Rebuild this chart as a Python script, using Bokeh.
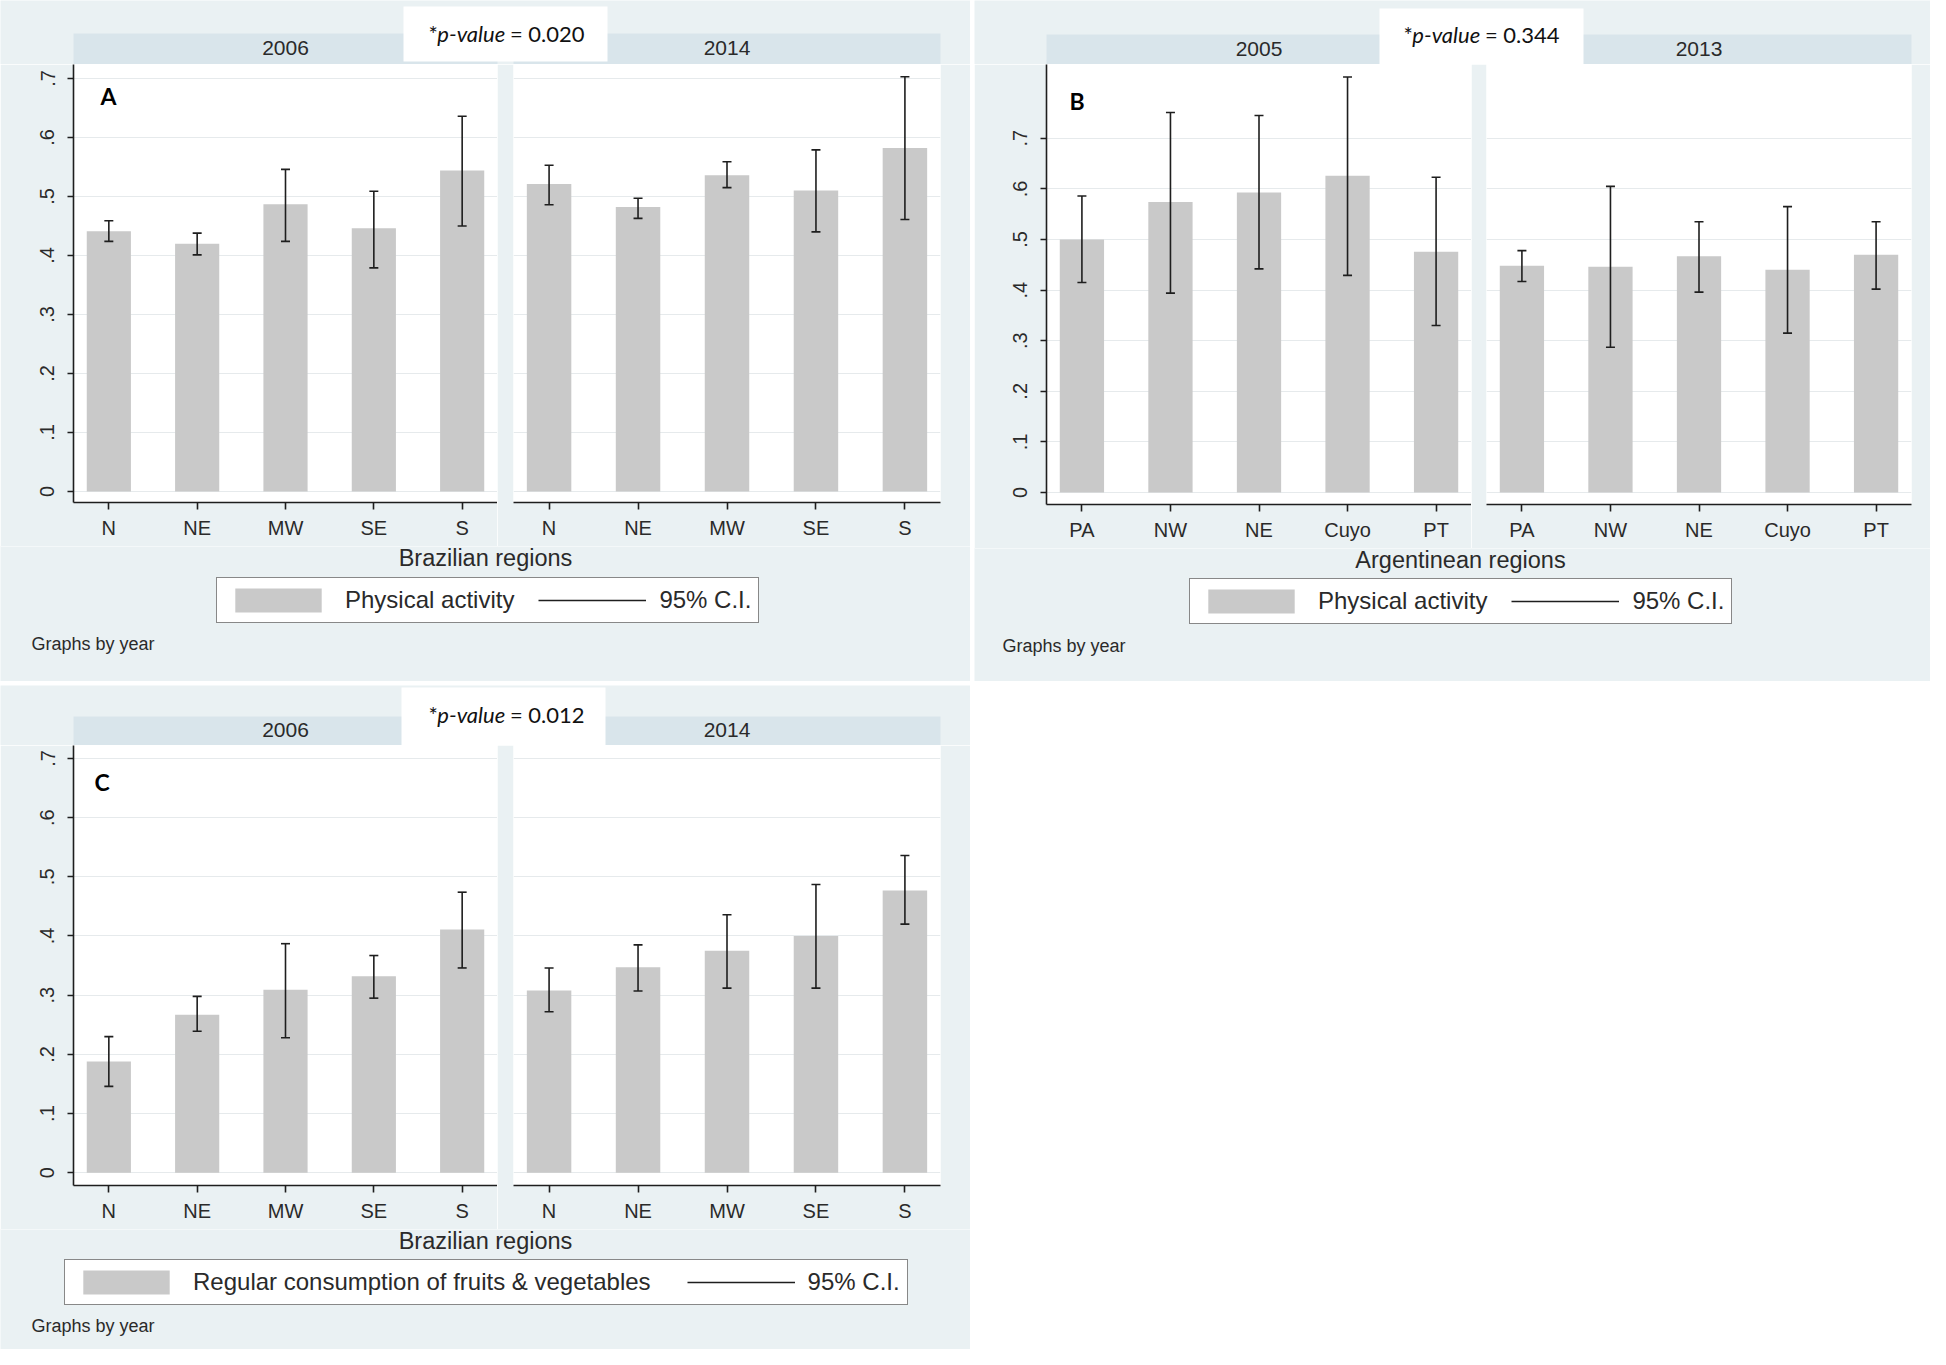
from bokeh.plotting import figure
from bokeh.models import (Range1d, FixedTicker, Whisker, TeeHead, ColumnDataSource,
                          Legend, LegendItem, Label, Spacer)
from bokeh.layouts import column, row
from bokeh.core.properties import value
from bokeh.embed import file_html
from bokeh.resources import INLINE

# ---------------- data ----------------
BR_REGIONS = ["N", "NE", "MW", "SE", "S"]
AR_REGIONS = ["PA", "NW", "NE", "Cuyo", "PT"]

# Panel A - physical activity, Brazil
A_2006_mean = [0.441, 0.420, 0.487, 0.446, 0.544]
A_2006_lo = [0.424, 0.401, 0.424, 0.379, 0.450]
A_2006_hi = [0.459, 0.438, 0.546, 0.509, 0.636]
A_2014_mean = [0.521, 0.482, 0.536, 0.510, 0.582]
A_2014_lo = [0.486, 0.463, 0.515, 0.440, 0.461]
A_2014_hi = [0.553, 0.497, 0.559, 0.579, 0.703]

# Panel B - physical activity, Argentina
B_2005_mean = [0.500, 0.574, 0.593, 0.626, 0.476]
B_2005_lo = [0.415, 0.394, 0.442, 0.429, 0.330]
B_2005_hi = [0.586, 0.751, 0.745, 0.821, 0.623]
B_2013_mean = [0.448, 0.446, 0.467, 0.440, 0.470]
B_2013_lo = [0.417, 0.287, 0.396, 0.315, 0.402]
B_2013_hi = [0.478, 0.605, 0.535, 0.565, 0.535]

# Panel C - regular consumption of fruits & vegetables, Brazil
C_2006_mean = [0.188, 0.267, 0.309, 0.332, 0.411]
C_2006_lo = [0.146, 0.239, 0.228, 0.295, 0.346]
C_2006_hi = [0.230, 0.298, 0.387, 0.367, 0.474]
C_2014_mean = [0.308, 0.347, 0.375, 0.400, 0.477]
C_2014_lo = [0.272, 0.307, 0.312, 0.312, 0.420]
C_2014_hi = [0.346, 0.385, 0.436, 0.487, 0.536]

Y_TICKS = [0, 0.1, 0.2, 0.3, 0.4, 0.5, 0.6, 0.7]
Y_LABELS = ["0", ".1", ".2", ".3", ".4", ".5", ".6", ".7"]

# ---------------- style ----------------
BG = "#eaf1f3"
STRIP = "#d9e5eb"
BAR = "#c9c9c9"
GRID = "#e6eaec"
INK = "#1e1e1e"
TXT = "#2a2a2a"
SANS = "Liberation Sans"
CAL = "Lato"


def bare_fig(W, H):
    p = figure(width=W, height=H, x_range=Range1d(0, W), y_range=Range1d(H, 0),
               output_backend="svg", toolbar_location=None, title=None,
               x_axis_location=None, y_axis_location=None, min_border=0)
    p.background_fill_color = BG
    p.border_fill_color = BG
    p.outline_line_color = None
    p.grid.visible = False
    return p


def make_header(cfg, years, pval):
    W, H = cfg["W"], cfg["HH"]
    p = bare_fig(W, H)
    bl, lw, gap, rw = cfg["bl"], cfg["lw"], cfg["gap"], cfg["rw"]
    lefts = [bl, bl + lw + gap]
    rights = [bl + lw, bl + lw + gap + rw]
    t, b = cfg["strip_y"]
    p.quad(left=lefts, right=rights, top=[t, t], bottom=[b, b],
           fill_color=STRIP, line_color=None)
    p.text(x=[(l + r) / 2 for l, r in zip(lefts, rights)], y=[cfg["strip_ty"]] * 2,
           text=years, text_align="center", text_baseline="middle",
           text_font=value(SANS), text_font_size="21px", text_color=TXT)
    x0, x1, y0, y1 = cfg["pbox"]
    p.quad(left=[x0], right=[x1], top=[y0], bottom=[y1], fill_color="white", line_color=None)
    fs = 22
    cx, cy = cfg["ptext"]
    total = 7.0 * fs
    sx = cx - total / 2
    common = dict(text_baseline="middle", text_font=value(CAL),
                  text_font_size=f"{fs}px", text_color="#111111", text_align="left")
    p.text(x=[sx], y=[cy], text=["*"], **common)
    p.text(x=[sx + 0.40 * fs], y=[cy], text=["p-value"], text_font_style="italic", **common)
    p.text(x=[sx + (0.40 + 3.18 + 0.12) * fs], y=[cy], text=["= " + pval], **common)
    return p


def make_sub(cfg, regions, mean, lo, hi, left):
    xs = list(range(1, len(regions) + 1))
    bl = cfg["bl"] if left else cfg["gap"]
    br = 0 if left else cfg["br"]
    fw = cfg["lw"] if left else cfg["rw"]
    p = figure(width=bl + fw + br, height=cfg["FH"] + cfg["AXH"],
               x_range=Range1d(0.6, 5.4), y_range=Range1d(*cfg["yr"]),
               output_backend="svg", toolbar_location=None, title=None,
               y_axis_location="left" if left else None,
               min_border_left=bl, min_border_right=br, min_border_top=0,
               min_border_bottom=cfg["AXH"])
    p.background_fill_color = "white"
    p.border_fill_color = BG
    p.outline_line_color = None
    src = ColumnDataSource(dict(x=xs, mean=mean, lo=lo, hi=hi, region=regions))
    p.vbar(x="x", top="mean", bottom=0, width=0.5, source=src,
           fill_color=BAR, line_color=None)
    p.add_layout(Whisker(base="x", lower="lo", upper="hi", source=src, level="overlay",
                         line_color=INK, line_width=1.6,
                         upper_head=TeeHead(size=9, line_color=INK, line_width=1.6),
                         lower_head=TeeHead(size=9, line_color=INK, line_width=1.6)))
    p.xgrid.visible = False
    p.ygrid.ticker = FixedTicker(ticks=Y_TICKS)
    p.ygrid.grid_line_color = GRID
    p.ygrid.grid_line_width = 1

    xa = p.xaxis[0]
    xa.ticker = FixedTicker(ticks=xs)
    xa.major_label_overrides = {x: r for x, r in zip(xs, regions)}
    axes = [xa]
    if left:
        ya = p.yaxis[0]
        ya.ticker = FixedTicker(ticks=Y_TICKS)
        ya.major_label_overrides = dict(zip(Y_TICKS, Y_LABELS))
        ya.major_label_orientation = "vertical"
        ya.major_label_standoff = 13
        ya.major_tick_out = 6
        axes.append(ya)
        lab = cfg["letter"]
        lx, ly = cfg["lpos"]
        p.add_layout(Label(x=lx, y=cfg["FH"] - ly + 4, x_units="screen", y_units="screen",
                           text=lab, text_font=CAL, text_font_style="bold",
                           text_font_size="23px", text_color="#000000",
                           text_baseline="top", text_align="left"))
    xa.major_tick_out = 7
    xa.major_label_standoff = 7
    for a in axes:
        a.major_tick_in = 0
        a.minor_tick_in = 0
        a.minor_tick_out = 0
        a.axis_line_color = INK
        a.axis_line_width = 1.6
        a.major_tick_line_color = INK
        a.major_tick_line_width = 1.6
        a.major_label_text_font = SANS
        a.major_label_text_font_size = "20px"
        a.major_label_text_color = TXT
    return p


def make_footer(cfg):
    W, H = cfg["W"], cfg["FTH"]
    p = bare_fig(W, H)
    xt_x, xt_y = cfg["xt"]
    p.text(x=[xt_x], y=[xt_y], text=[cfg["xtitle"]], text_align="center",
           text_baseline="middle", text_font=value(SANS), text_font_size="23.5px",
           text_color=TXT)
    gx, gy = cfg["graphs"]
    p.text(x=[gx], y=[gy], text=["Graphs by year"], text_align="left",
           text_baseline="middle", text_font=value(SANS), text_font_size="18px",
           text_color=TXT)
    # legend proxies (kept outside the visible frame)
    r_bar = p.vbar(x=[-500], top=[-400], bottom=[-450], width=10,
                   fill_color=BAR, line_color=None)
    r_ci = p.line(x=[-500, -450], y=[-400, -400], line_color=INK, line_width=1.6)
    leg = Legend(items=[LegendItem(label=cfg["series"], renderers=[r_bar]),
                        LegendItem(label="95% C.I.", renderers=[r_ci])],
                 orientation="horizontal",
                 location=(cfg["legend_x"], H - cfg["legend_bottom"]),
                 margin=0, padding=7, spacing=cfg["spacing"],
                 glyph_width=108, glyph_height=30, label_standoff=13,
                 label_text_font=SANS, label_text_font_size="24px",
                 label_text_color=TXT, border_line_color="#111111",
                 border_line_width=1.5, background_fill_color="white",
                 background_fill_alpha=1.0)
    p.add_layout(leg)
    return p


def make_panel(cfg, regions, years, pval, s1, s2):
    header = make_header(cfg, years, pval)
    left = make_sub(cfg, regions, *s1, left=True)
    right = make_sub(cfg, regions, *s2, left=False)
    footer = make_footer(cfg)
    return column(header, row(left, right), footer)


CFG_A = dict(W=970, HH=64, FH=438, AXH=44, FTH=135,
             bl=73, lw=424, gap=16, rw=427, br=30,
             yr=(-0.0186, 0.7237), strip_y=(33, 64), strip_ty=47,
             pbox=(403, 607, 6, 61), ptext=(505, 33),
             letter="A", lpos=(27, 21),
             xtitle="Brazilian regions", xt=(485, 11),
             legend_x=216, legend_bottom=77, series="Physical activity",
             spacing=24, graphs=(31, 97))
CFG_B = dict(W=956, HH=64, FH=440, AXH=44, FTH=133,
             bl=72, lw=425, gap=15, rw=425, br=19,
             yr=(-0.0237, 0.8458), strip_y=(34, 64), strip_ty=48,
             pbox=(405, 609, 8, 64), ptext=(506, 34),
             letter="B", lpos=(23, 26),
             xtitle="Argentinean regions", xt=(486, 11),
             legend_x=215, legend_bottom=76, series="Physical activity",
             spacing=24, graphs=(28, 97))
CFG_C = dict(W=970, HH=60, FH=440, AXH=44, FTH=120,
             bl=73, lw=424, gap=16, rw=427, br=30,
             yr=(-0.0215, 0.7218), strip_y=(31, 60), strip_ty=44,
             pbox=(401, 605, 2, 60), ptext=(505, 29),
             letter="C", lpos=(21, 26),
             xtitle="Brazilian regions", xt=(485, 11.5),
             legend_x=64, legend_bottom=76,
             series="Regular consumption of fruits & vegetables",
             spacing=36, graphs=(31, 96))

panel_a = make_panel(CFG_A, BR_REGIONS, ["2006", "2014"], "0.020",
                     (A_2006_mean, A_2006_lo, A_2006_hi), (A_2014_mean, A_2014_lo, A_2014_hi))
panel_b = make_panel(CFG_B, AR_REGIONS, ["2005", "2013"], "0.344",
                     (B_2005_mean, B_2005_lo, B_2005_hi), (B_2013_mean, B_2013_lo, B_2013_hi))
panel_c = make_panel(CFG_C, BR_REGIONS, ["2006", "2014"], "0.012",
                     (C_2006_mean, C_2006_lo, C_2006_hi), (C_2014_mean, C_2014_lo, C_2014_hi))

page = column(row(panel_a, Spacer(width=4, height=681), panel_b),
              Spacer(width=10, height=4),
              panel_c)

with open("out.html", "w") as f:
    f.write(file_html(page, INLINE))
